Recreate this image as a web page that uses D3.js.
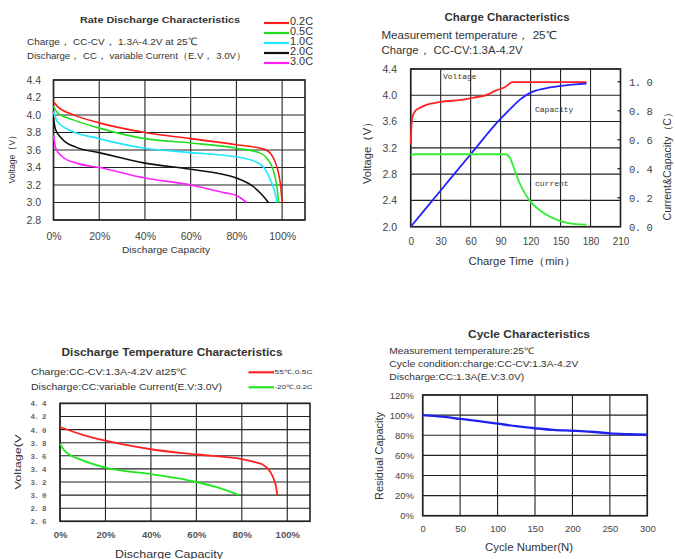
<!DOCTYPE html>
<html><head><meta charset="utf-8">
<script src="https://cdn.jsdelivr.net/npm/d3@7"></script>
<style>
html,body{margin:0;padding:0;background:#fff;}
svg{display:block;}
text{font-family:"Liberation Sans",Arial,sans-serif;fill:#333;}
</style></head><body>
<svg id="c" width="675" height="559"></svg>
<script>
// ---------- Panel 1: Rate discharge ----------
const rateSeries = ["0.2C","0.5C","1.0C","2.0C","3.0C"];
const rateColors = ["#ff1a1a","#22dd22","#22e6ff","#111111","#ff22ff"];
const rate02 = [[0,4.15],[2,4.09],[8,4.01],[20,3.91],[40,3.80],[60,3.73],[80,3.66],[92,3.61],[95.5,3.54],[98,3.38],[99.3,3.2],[100,3.0]];
const rate05 = [[0,4.10],[2,4.02],[8,3.95],[20,3.85],[40,3.73],[60,3.68],[80,3.62],[90,3.57],[93.5,3.5],[96,3.38],[97.6,3.2],[98.5,3.0]];
const rate10 = [[0,4.04],[1.5,3.93],[6,3.84],[20,3.73],[40,3.62],[60,3.57],[80,3.52],[88,3.47],[92,3.4],[95,3.25],[97,3.1],[97.8,3.0]];
const rate20 = [[0,3.97],[0.8,3.84],[4,3.72],[10,3.63],[20,3.57],[40,3.45],[60,3.38],[80,3.28],[87.5,3.18],[91.5,3.08],[94,3.0]];
const rate30 = [[0,3.77],[1,3.62],[4,3.52],[10,3.45],[20,3.40],[40,3.28],[60,3.20],[75,3.11],[80,3.08],[84.5,3.0]];
const rateData = [rate02, rate05, rate10, rate20, rate30];
const rateXTicks = [0,20,40,60,80,100];
const rateYTicks = [2.8,3.0,3.2,3.4,3.6,3.8,4.0,4.2,4.4];

// ---------- Panel 2: Charge ----------
const chargeTimeTicks = [0,30,60,90,120,150,180,210];
const chargeVTicks = [2.0,2.4,2.8,3.2,3.6,4.0,4.4];
const chargeRightTicks = [0.0,0.2,0.4,0.6,0.8,1.0];
const chargeVoltage = [[0,3.25],[0.8,3.55],[2,3.68],[4,3.75],[8,3.8],[15,3.85],[30,3.9],[50,3.93],[65,3.97],[75,4.0],[85,4.07],[95,4.13],[102,4.2],[120,4.2],[150,4.2],[176,4.2]];
const chargeCapacity = [[0,0],[30,0.25],[60,0.5],[90,0.745],[100,0.815],[110,0.88],[120,0.925],[135,0.955],[150,0.972],[165,0.982],[176,0.988]];
const chargeCurrent = [[0,0.495],[4,0.5],[50,0.5],[95,0.5],[99,0.48],[103,0.41],[109,0.3],[119,0.18],[132,0.1],[149,0.04],[165,0.018],[176,0.015]];

// ---------- Panel 3: Discharge temperature ----------
const tempSeries = ["55℃,0.5C","-20℃,0.2C"];
const tempColors = ["#ff2222","#22e622"];
const temp55 = [[0,4.04],[10,3.92],[20,3.83],[40,3.7],[60,3.62],[80,3.55],[85,3.51],[89,3.47],[92,3.38],[94,3.25],[95.2,3.1],[95.6,3.0]];
const tempM20 = [[0,3.78],[2,3.68],[10,3.53],[20,3.42],[40,3.32],[60,3.2],[70,3.11],[78.7,3.0]];
const tempXTicks = [0,20,40,60,80,100];
const tempYTicks = [2.6,2.8,3.0,3.2,3.4,3.6,3.8,4.0,4.2,4.4];

// ---------- Panel 4: Cycle ----------
const cycleXTicks = [0,50,100,150,200,250,300];
const cycleYTicks = [0,20,40,60,80,100,120];
const cycleData = [[0,100],[25,98.5],[50,96.3],[75,94],[100,91.5],[125,89],[150,87],[175,85.3],[200,84.5],[225,83.5],[250,81.8],[275,81],[300,80.5]];

const svg = d3.select("#c");

function grid(g, x, y, xt, yt, sw) {
  g.selectAll(null).data(xt).join("line")
    .attr("x1", d => x(d)).attr("x2", d => x(d))
    .attr("y1", y.range()[0]).attr("y2", y.range()[1])
    .attr("stroke", "#222").attr("stroke-width", sw || 1.1);
  g.selectAll(null).data(yt).join("line")
    .attr("y1", d => y(d)).attr("y2", d => y(d))
    .attr("x1", x.range()[0]).attr("x2", x.range()[1])
    .attr("stroke", "#222").attr("stroke-width", sw || 1.1);
  g.append("rect").attr("x", x.range()[0]).attr("y", y.range()[1])
    .attr("width", x.range()[1]-x.range()[0]).attr("height", y.range()[0]-y.range()[1])
    .attr("fill", "none").attr("stroke", "#222").attr("stroke-width", 1.6);
}
function txt(g, x, y, s, size, opts) {
  opts = opts || {};
  const t = g.append("text").attr("x", x).attr("y", y).text(s)
    .attr("font-size", size).attr("text-anchor", opts.anchor || "start")
    .attr("dominant-baseline", "middle");
  if (opts.bold) t.attr("font-weight", "bold");
  if (opts.family) t.style("font-family", opts.family);
  if (opts.rot) t.attr("transform", `rotate(-90,${x},${y})`);
  if (opts.fill) t.style("fill", opts.fill);
  if (opts.ls) t.attr("letter-spacing", opts.ls);
  if (opts.len) t.attr("textLength", opts.len).attr("lengthAdjust", "spacingAndGlyphs");
  return t;
}
const line = (x, y) => d3.line().x(d => x(d[0])).y(d => y(d[1])).curve(d3.curveMonotoneX);

// ===== Panel 1 =====
{
  const g = svg.append("g");
  const x = d3.scaleLinear().domain([0,110]).range([53.5,305]);
  const y = d3.scaleLinear().domain([2.8,4.4]).range([220,80]);
  grid(g, x, y, rateXTicks, rateYTicks);
  rateData.forEach((d,i) => {
    g.append("path").datum(d).attr("d", line(x,y)).attr("fill","none")
      .attr("stroke", rateColors[i]).attr("stroke-width", 1.6);
  });
  const ya = d3.axisLeft(y).tickValues(rateYTicks).tickSize(0).tickPadding(0).tickFormat(d3.format(".1f"));
  const ax = g.append("g").attr("transform","translate(41,0)").call(ya);
  ax.select(".domain").remove();
  ax.selectAll("text").attr("font-size", 10.5).style("fill","#444");
  const xa = d3.axisBottom(x).tickValues(rateXTicks).tickSize(0).tickPadding(0).tickFormat(d => d + "%");
  const bx = g.append("g").attr("transform","translate(0,233)").call(xa);
  bx.select(".domain").remove();
  bx.selectAll("text").attr("font-size", 10.5).style("fill","#444");
  txt(g, 12, 157, "Voltage（V）", 9.5, {anchor:"middle", rot:true, len:53});
  txt(g, 166, 250, "Discharge Capacity", 9.5, {anchor:"middle", len:88});
  txt(g, 160, 20, "Rate Discharge Characteristics", 9.5, {anchor:"middle", bold:true, len:160});
  txt(g, 27, 42, "Charge， CC-CV， 1.3A-4.2V at 25℃", 9.5, {len:170});
  txt(g, 27, 56, "Discharge， CC， variable Current（E.V， 3.0V）", 9.5, {len:219});
  rateSeries.forEach((s,i) => {
    const yy = 23 + i*10;
    g.append("line").attr("x1",264).attr("x2",289).attr("y1",yy).attr("y2",yy)
      .attr("stroke", rateColors[i]).attr("stroke-width", 2.2);
    txt(g, 290, yy-0.5, s, 10, {len:23});
  });
}

// ===== Panel 2 =====
{
  const g = svg.append("g");
  const x = d3.scaleLinear().domain([0,210]).range([410.7,620.5]);
  const y = d3.scaleLinear().domain([2.0,4.4]).range([226.7,69]);
  const yr = d3.scaleLinear().domain([0,1.088]).range([226.7,69]);
  grid(g, x, y, chargeTimeTicks, chargeVTicks);
  g.append("path").datum(chargeVoltage).attr("d", line(x,y)).attr("fill","none").attr("stroke","#ff2222").attr("stroke-width",1.8);
  g.append("path").datum(chargeCapacity).attr("d", line(x,yr)).attr("fill","none").attr("stroke","#2222ff").attr("stroke-width",1.8);
  g.append("path").datum(chargeCurrent).attr("d", line(x,yr)).attr("fill","none").attr("stroke","#33ee33").attr("stroke-width",1.8);
  const ya = d3.axisLeft(y).tickValues(chargeVTicks).tickSize(0).tickPadding(0).tickFormat(d3.format(".1f"));
  const ax = g.append("g").attr("transform","translate(397,0)").call(ya);
  ax.select(".domain").remove();
  ax.selectAll("text").attr("font-size", 10.5).style("fill","#444");
  const ra = d3.axisRight(yr).tickValues(chargeRightTicks).tickSize(0).tickPadding(0).tickFormat(d => d3.format(".1f")(d).replace(".", ". "));
  const rx = g.append("g").attr("transform","translate(629,0)").call(ra);
  rx.select(".domain").remove();
  rx.selectAll("text").attr("font-size", 10.5).style("fill","#444").style("font-family","Liberation Mono, monospace").attr("letter-spacing",-0.5);
  g.selectAll(null).data(chargeRightTicks.slice(1)).join("line")
    .attr("x1", 617.5).attr("x2", 620.5).attr("y1", d => yr(d)).attr("y2", d => yr(d))
    .attr("stroke","#222").attr("stroke-width",1.3);
  const xa = d3.axisBottom(x).tickValues(chargeTimeTicks).tickSize(0).tickPadding(0);
  const bx = g.append("g").attr("transform","translate(0,238)").call(xa);
  bx.select(".domain").remove();
  bx.selectAll("text").attr("font-size", 10).style("fill","#444");
  txt(g, 368, 150, "Voltage（V）", 10.5, {anchor:"middle", rot:true, len:68});
  txt(g, 668, 164, "Current&Capacity（C）", 10, {anchor:"middle", rot:true, len:113});
  txt(g, 522, 262, "Charge Time（min）", 10.5, {anchor:"middle", len:107});
  txt(g, 507, 18, "Charge Characteristics", 11, {anchor:"middle", bold:true, len:125});
  txt(g, 381.5, 36, "Measurement temperature， 25℃", 10.5, {len:175});
  txt(g, 381.5, 51, "Charge， CC-CV:1.3A-4.2V", 10.5, {len:141});
  txt(g, 443, 77, "Voltage", 8, {family:"Liberation Mono, monospace"});
  txt(g, 535, 110, "Capacity", 8, {family:"Liberation Mono, monospace"});
  txt(g, 535, 184, "current", 8, {family:"Liberation Mono, monospace"});
}

// ===== Panel 3 =====
{
  const g = svg.append("g");
  const x = d3.scaleLinear().domain([0,110]).range([60,310]);
  const y = d3.scaleLinear().domain([2.6,4.4]).range([521.3,403.4]);
  grid(g, x, y, tempXTicks, tempYTicks);
  [temp55, tempM20].forEach((d,i) => {
    g.append("path").datum(d).attr("d", line(x,y)).attr("fill","none")
      .attr("stroke", tempColors[i]).attr("stroke-width", 1.8);
  });
  const ya = d3.axisLeft(y).tickValues(tempYTicks).tickSize(0).tickPadding(0).tickFormat(d => d3.format(".1f")(d).replace(".", ". "));
  const ax = g.append("g").attr("transform","translate(46,0)").call(ya);
  ax.select(".domain").remove();
  ax.selectAll("text").attr("font-size", 7.5).attr("font-weight","bold").style("fill","#666").style("font-family","Liberation Mono, monospace").attr("letter-spacing",-0.6);
  const xa = d3.axisBottom(x).tickValues(tempXTicks).tickSize(0).tickPadding(0).tickFormat(d => d + "%");
  const bx = g.append("g").attr("transform","translate(0,531)").call(xa);
  bx.select(".domain").remove();
  bx.selectAll("text").attr("font-size", 9.5).attr("font-weight","bold").style("fill","#555");
  txt(g, 18.5, 462, "Voltage(V", 9.5, {anchor:"middle", rot:true, len:55});
  txt(g, 169, 555, "Discharge Capacity", 10.5, {anchor:"middle", len:108});
  txt(g, 172, 353, "Discharge Temperature Characteristics", 10.5, {anchor:"middle", bold:true, len:221});
  txt(g, 31, 373, "Charge:CC-CV:1.3A-4.2V  at25℃", 9, {len:156});
  txt(g, 31, 388, "Discharge:CC:variable Current(E.V:3.0V)", 9, {len:191});
  tempSeries.forEach((s,i) => {
    const yy = 372.3 + i*15;
    g.append("line").attr("x1",248.5).attr("x2",274).attr("y1",yy).attr("y2",yy)
      .attr("stroke", tempColors[i]).attr("stroke-width", 2.2);
    txt(g, 274.5, yy+0.5, s, 6, {len:38});
  });
}

// ===== Panel 4 =====
{
  const g = svg.append("g");
  const x = d3.scaleLinear().domain([0,300]).range([422.7,647.3]);
  const y = d3.scaleLinear().domain([0,120]).range([515.7,395]);
  grid(g, x, y, cycleXTicks, cycleYTicks);
  g.append("path").datum(cycleData).attr("d", line(x,y)).attr("fill","none")
    .attr("stroke", "#2222ee").attr("stroke-width", 2.4);
  const ya = d3.axisLeft(y).tickValues(cycleYTicks).tickSize(0).tickPadding(0).tickFormat(d => d + "%");
  const ax = g.append("g").attr("transform","translate(414,0)").call(ya);
  ax.select(".domain").remove();
  ax.selectAll("text").attr("font-size", 9.5).style("fill","#444");
  const xa = d3.axisBottom(x).tickValues(cycleXTicks).tickSize(0).tickPadding(0);
  const bx = g.append("g").attr("transform","translate(0,525)").call(xa);
  bx.select(".domain").remove();
  bx.selectAll("text").attr("font-size", 9.5).style("fill","#444");
  txt(g, 380, 456, "Residual Capacity", 10, {anchor:"middle", rot:true, len:88});
  txt(g, 529, 548, "Cycle Number(N)", 10, {anchor:"middle", len:88});
  txt(g, 529, 335, "Cycle Characteristics", 10.5, {anchor:"middle", bold:true, len:122});
  txt(g, 389.3, 352, "Measurement temperature:25℃", 9, {len:145});
  txt(g, 389.3, 364.5, "Cycle condition:charge:CC-CV:1.3A-4.2V", 9, {len:189});
  txt(g, 389.3, 377.5, "Discharge:CC:1.3A(E.V:3.0V)", 9, {len:135});
}
</script>
</body></html>
